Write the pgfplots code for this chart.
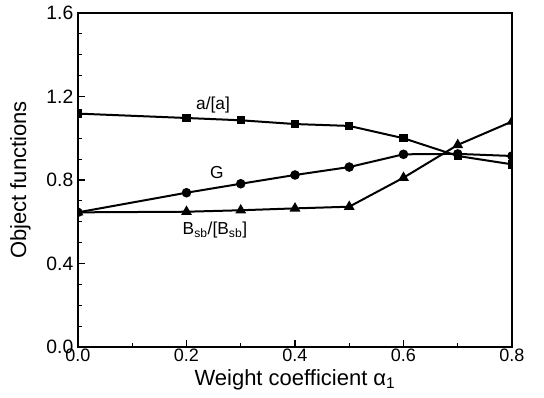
\documentclass[border=0pt]{standalone}
\usepackage{fontspec}
\setmainfont{Liberation Sans}
\usepackage{pgfplots}
\pgfplotsset{compat=1.18}
\begin{document}
\begin{tikzpicture}
\useasboundingbox (-58.5pt,-38.25pt) rectangle (349.5pt,260.25pt);
\begin{axis}[
  scale only axis,
  width=325.5pt, height=250.5pt,
  xmin=0, xmax=0.8, ymin=0, ymax=1.6,
  xtick={0,0.2,0.4,0.6,0.8},
  ytick={0,0.4,0.8,1.2,1.6},
  minor x tick num=1,
  minor y tick num=3,
  tick pos=left,
  tick align=inside,
  major tick length=5pt,
  minor tick length=3pt,
  every tick/.style={black, line width=0.8pt},
  axis line style={line width=0.9pt},
  /pgf/number format/assume math mode=true,
  /pgf/number format/fixed,
  /pgf/number format/fixed zerofill,
  /pgf/number format/precision=1,
  xticklabel style={font=\fontsize{13.5}{15}\selectfont, yshift=2pt},
  yticklabel style={font=\fontsize{14.5}{16}\selectfont},
  label style={font=\fontsize{16.5}{19}\selectfont},
  xlabel={Weight coefficient α\textsubscript{1}},
  ylabel={Object functions},
  xlabel style={yshift=1pt},
  ylabel shift=5pt,
  clip marker paths=true,
]
\addplot[black, line width=1.5pt, mark=square*, mark size=2.4pt, mark options={solid, fill=black}] coordinates {
(0,1.118) (0.2,1.097) (0.3,1.086) (0.4,1.068) (0.5,1.059) (0.6,1.0) (0.7,0.915) (0.8,0.875)};
\addplot[black, line width=1.5pt, mark=*, mark size=2.8pt, mark options={solid, fill=black}] coordinates {
(0,0.645) (0.2,0.739) (0.3,0.782) (0.4,0.824) (0.5,0.862) (0.6,0.923) (0.7,0.925) (0.8,0.915)};
\addplot[black, line width=1.5pt, mark=triangle*, mark size=3.2pt, mark options={solid, fill=black}] coordinates {
(0,0.645) (0.2,0.648) (0.3,0.655) (0.4,0.664) (0.5,0.672) (0.6,0.811) (0.7,0.968) (0.8,1.08)};
\node[font=\fontsize{13}{15}\selectfont] at (axis cs:0.249,1.159) {a/[a]};
\node[font=\fontsize{13}{15}\selectfont] at (axis cs:0.256,0.838) {G};
\node[font=\fontsize{13}{15}\selectfont] at (axis cs:0.2525,0.56) {B\textsubscript{sb}/[B\textsubscript{sb}]};
\end{axis}
\end{tikzpicture}
\end{document}
